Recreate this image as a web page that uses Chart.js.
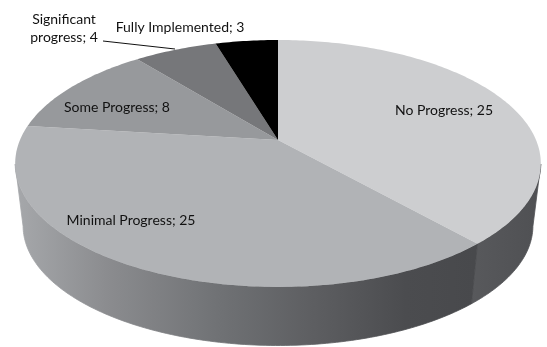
<!DOCTYPE html>
<html>
<head>
<meta charset="utf-8">
<title>Implementation progress</title>
<script src="https://cdn.jsdelivr.net/npm/chart.js@4"></script>
<style>
  html, body { margin: 0; padding: 0; background: #fff; }
  canvas { display: block; }
</style>
</head>
<body>
<canvas id="grafico1" width="547" height="347"></canvas>
<script>
const categories = ['No Progress', 'Minimal Progress', 'Some Progress', 'Significant progress', 'Fully Implemented'];
const values = [25, 25, 8, 4, 3];
const topColors = ['#cdced0', '#b1b3b6', '#97999c', '#76777a', '#000000'];

// label lines and where their centres sit, same order as categories
const labelLines = [
  ['No Progress; 25'],
  ['Minimal Progress; 25'],
  ['Some Progress; 8'],
  ['Significant', 'progress; 4'],
  ['Fully Implemented; 3']
];
const labelCentres = [[444, 110], [131, 220], [117, 107], [64, 19], [180, 27]];

// disc seen from above: radius multipliers and perspective strength
const squashX = 1.843, squashY = 0.85, tilt = 0.19;
const depthScale = 0.97, depthDrop = 63;

const ctx = document.getElementById('grafico1');

function project(arc, angle, lower) {
  const u = Math.cos(angle), v = Math.sin(angle);
  const w = 1 - tilt * v;
  const s = lower ? depthScale : 1;
  return [
    arc.x + s * arc.outerRadius * squashX * u / w,
    arc.y + (lower ? depthDrop : 0) + s * arc.outerRadius * squashY * v / w
  ];
}

// points along a slice's rim; frontOnly keeps the part facing the viewer
function arcPoints(arc, lower, frontOnly) {
  const pts = [];
  const steps = Math.ceil((arc.endAngle - arc.startAngle) * 60);
  for (let i = 0; i <= steps; i++) {
    const a = arc.startAngle + (arc.endAngle - arc.startAngle) * i / steps;
    if (!frontOnly || Math.sin(a) >= tilt) pts.push(project(arc, a, lower));
  }
  return pts;
}

function trace(c, pts) {
  c.beginPath();
  pts.forEach((p, i) => i ? c.lineTo(p[0], p[1]) : c.moveTo(p[0], p[1]));
  c.closePath();
}

function wallFill(c, i) {
  if (i === 0) {
    const g = c.createLinearGradient(470, 0, 541, 0);
    g.addColorStop(0, '#58595c');
    g.addColorStop(1, '#4f5053');
    return g;
  }
  const g = c.createLinearGradient(15, 0, 475, 0);
  g.addColorStop(0, '#a6a8ab');
  g.addColorStop(0.2, '#8b8c8f');
  g.addColorStop(0.45, '#6f7174');
  g.addColorStop(0.65, '#5d5e61');
  g.addColorStop(0.85, '#4b4c4f');
  g.addColorStop(1, '#48494c');
  return g;
}

const disc3d = {
  id: 'disc3d',
  beforeDatasetsDraw(chart) {
    const c = chart.ctx;
    const arcs = chart.getDatasetMeta(0).data;
    c.save();

    // side wall first, the top face covers its upper rim
    arcs.forEach((arc, i) => {
      const upper = arcPoints(arc, false, true);
      if (upper.length < 2) return;
      const lower = arcPoints(arc, true, true).reverse();
      trace(c, upper.concat(lower));
      c.fillStyle = c.strokeStyle = wallFill(c, i);
      c.lineWidth = 0.8; // closes the hairline between the two wall pieces
      c.fill();
      c.stroke();
    });

    // top face
    arcs.forEach(arc => {
      trace(c, [project({ x: arc.x, y: arc.y, outerRadius: 0 }, 0, false)].concat(arcPoints(arc, false)));
      c.fillStyle = arc.options.backgroundColor;
      c.fill();
    });

    // leader for the small slice
    c.beginPath();
    c.moveTo(103, 41);
    c.lineTo(175, 49);
    c.strokeStyle = '#111';
    c.lineWidth = 1;
    c.stroke();

    // labels
    c.fillStyle = '#111';
    c.font = '14px Lato';
    c.textAlign = 'center';
    c.textBaseline = 'middle';
    labelLines.forEach((lines, i) => {
      lines.forEach((line, j) => {
        c.fillText(line, labelCentres[i][0], labelCentres[i][1] + j * 18);
      });
    });
    c.restore();
    return false; // the flat pie is not drawn
  }
};

new Chart(ctx, {
  type: 'pie',
  data: {
    labels: categories,
    datasets: [{
      data: values,
      backgroundColor: topColors,
      borderWidth: 0
    }]
  },
  options: {
    responsive: false,
    animation: false,
    layout: { padding: { left: 9, bottom: 67 } },
    plugins: {
      legend: { display: false },
      tooltip: { enabled: false }
    }
  },
  plugins: [disc3d]
});
</script>
</body>
</html>
